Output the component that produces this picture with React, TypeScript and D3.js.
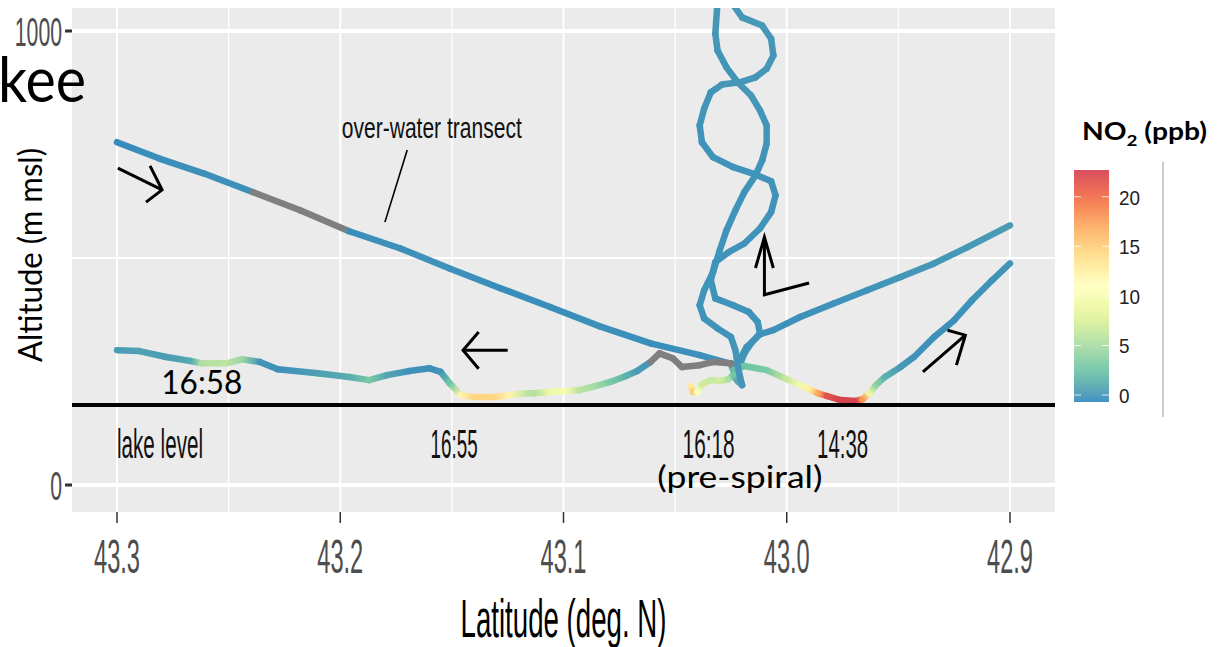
import React, { useRef, useEffect } from 'react';
import * as d3 from 'd3';

// [latitude (deg N), altitude (m msl), NO2 (ppb) or null when missing]
type Fix = [number, number, number | null];

const transect: Fix[] = [
  [43.300, 755, -0.5], [43.281, 719, -0.4], [43.261, 686, -0.3], [43.239, 645, -0.3],
  [43.218, 605, null], [43.196, 559, -0.4], [43.173, 521, -0.3], [43.151, 477, -0.2],
  [43.128, 433, -0.5], [43.106, 392, -0.4], [43.084, 350, -0.3], [43.061, 312, -0.4],
  [43.039, 286, -0.3], [43.023, 264, -0.1],
];

const spiralA: Fix[] = [
  [43.031, 1065, 0], [43.032, 994, 0.1], [43.031, 957, 0], [43.027, 920, -0.1], [43.022, 887, 0],
  [43.016, 858, 0.1], [43.012, 825, 0], [43.009, 792, -0.1], [43.009, 752, 0], [43.011, 715, -0.2],
  [43.014, 682, -0.1], [43.019, 645, -0.2], [43.023, 605, -0.1], [43.027, 561, -0.2], [43.030, 517, -0.1],
  [43.033, 469, -0.2], [43.037, 429, -0.1], [43.039, 396, -0.2], [43.037, 367, -0.1], [43.031, 345, -0.2],
  [43.025, 326, -0.1], [43.023, 297, 0], [43.022, 264, 0], [43.023, 235, 0.2],
];

const spiralB: Fix[] = [
  [43.025, 1065, 0.2], [43.020, 1030, 0.1], [43.011, 1012, 0.2], [43.007, 983, 0.1], [43.006, 946, 0],
  [43.009, 917, 0.1], [43.014, 898, 0], [43.021, 887, 0.1], [43.029, 882, 0], [43.034, 865, -0.1],
  [43.037, 829, 0], [43.039, 792, -0.1], [43.038, 755, -0.2], [43.033, 722, -0.1], [43.024, 700, -0.2],
  [43.014, 684, -0.1], [43.007, 669, -0.2], [43.005, 638, -0.1], [43.007, 601, -0.2], [43.012, 565, -0.1],
  [43.019, 532, -0.2], [43.026, 513, -0.1], [43.032, 491, -0.2], [43.034, 451, -0.1], [43.032, 411, -0.2],
  [43.024, 396, -0.1], [43.017, 381, -0.2], [43.013, 359, -0.1], [43.012, 334, -0.2], [43.016, 312, -0.1],
  [43.019, 290, 0], [43.021, 264, 0.1], [43.022, 235, 0.3],
];

const climbOut: Fix[] = [
  [43.022, 268, 0], [43.018, 304, -0.1], [43.012, 332, -0.2], [43.006, 341, -0.3], [42.994, 370, -0.3],
  [42.979, 400, -0.2], [42.964, 429, -0.1], [42.949, 458, 0], [42.934, 488, 0.1], [42.919, 524, 0.2],
  [42.900, 572, 0.3],
];

const lowPass: Fix[] = [
  [43.300, 297, 0.3], [43.290, 295, 0.6], [43.278, 282, 0.3], [43.267, 273, 1.0], [43.262, 268, 5.5],
  [43.251, 268, 6], [43.244, 277, 4.5], [43.236, 271, 0], [43.228, 255, -0.3], [43.210, 246, 0.5],
  [43.196, 238, 1.2], [43.187, 231, 3], [43.179, 242, 0.8], [43.169, 251, -0.2], [43.160, 257, -0.3],
  [43.155, 249, 0], [43.151, 224, 2.5], [43.146, 198, 12], [43.140, 194, 14.5], [43.131, 194, 14.5],
  [43.124, 198, 12], [43.116, 202, 6], [43.113, 202, 5.5], [43.106, 205, 9], [43.099, 207, 10],
  [43.093, 209, 6], [43.087, 216, 5], [43.079, 227, 3], [43.072, 240, 1.5], [43.067, 251, 0.3],
  [43.061, 271, 0], [43.057, 290, null], [43.051, 279, null], [43.047, 260, null], [43.039, 264, null],
  [43.033, 271, null], [43.025, 268, null], [43.024, 253, 2], [43.019, 262, 2.5], [43.009, 253, 3],
  [43.000, 233, 6.5], [42.994, 220, 9.5], [42.990, 211, 12.5], [42.986, 202, 17], [42.982, 196, 21.5],
  [42.976, 187, 22.5], [42.969, 185, 22.5], [42.966, 189, 18], [42.963, 202, 9], [42.960, 220, 4],
  [42.956, 238, 1.5], [42.949, 260, 0.2], [42.943, 282, -0.2], [42.934, 326, -0.3], [42.925, 363, -0.3],
  [42.917, 407, -0.2], [42.908, 451, -0.2], [42.900, 488, 0],
];

const preSpiral: Fix[] = [
  [43.043, 218, 13], [43.042, 205, 15], [43.040, 205, 11], [43.038, 222, 7], [43.034, 231, 6.5],
  [43.030, 229, 7], [43.026, 233, 5.5], [43.024, 242, 3], [43.022, 229, 1], [43.020, 220, 0],
  [43.021, 240, 0], [43.022, 264, 0],
];

const tracks = [transect, spiralA, spiralB, climbOut, lowPass, preSpiral];

const latTicks = [43.3, 43.2, 43.1, 43.0, 42.9];
const latMinor = [43.25, 43.15, 43.05, 42.95];
const altTicks = [0, 1000];
const altMinor = [500];
const no2Ticks = [0, 5, 10, 15, 20];
const no2Range: [number, number] = [-0.7, 22.7];
const lakeLevel = 176;

// hand-drawn arrows, in (lat, alt)
const arrows: [number, number][][] = [
  [[43.2996, 698], [43.2798, 650]], [[43.2852, 703], [43.2798, 650], [43.2870, 623]],
  [[43.125, 297], [43.145, 297]], [[43.138, 337], [43.145, 297], [43.138, 256]],
  [[42.990, 445], [43.010, 419], [43.010, 546]], [[43.014, 478], [43.010, 546], [43.006, 478]],
  [[42.939, 249], [42.920, 330]], [[42.928, 341], [42.920, 330], [42.924, 264]],
  [[43.170, 738], [43.180, 579]],
];

// ggplot-style (condensed) labels: text, lat, alt, width, anchor
const plotLabels: [string, number, number, number, string][] = [
  ['over-water transect', 43.159, 764, 180, 'middle'],
  ['lake level', 43.300, 60, 86, 'start'],
  ['16:55', 43.149, 60, 47, 'middle'],
  ['16:18', 43.035, 60, 52, 'middle'],
  ['14:38', 42.975, 60, 51, 'middle'],
];

const NA_GREY = '#7f7f7f';
const condensed = '"Liberation Sans", Arial, sans-serif';
const slideFont = 'Lato, "Open Sans", sans-serif';

const ReferenceChart: React.FC = () => {
  const svgRef = useRef<SVGSVGElement>(null);

  useEffect(() => {
    if (!svgRef.current) return;
    const width = 1217;
    const height = 647;
    const panel = { left: 72, right: 1055, top: 8, bottom: 512 };

    const svg = d3.select(svgRef.current);
    svg.selectAll('*').remove();
    svg.attr('width', width).attr('height', height);
    const defs = svg.append('defs');

    const x = d3.scaleLinear().domain([43.3, 42.9]).range([117, 1010]);
    const y = d3.scaleLinear().domain([0, 1000]).range([485, 31]);

    const palette = d3.schemeSpectral[9].slice().reverse();
    const color = d3.scaleSequential(d3.piecewise(d3.interpolateLab, palette)).domain(no2Range);

    svg.append('rect').attr('width', width).attr('height', height).attr('fill', '#fff');

    // panel
    svg.append('rect')
      .attr('x', panel.left).attr('y', panel.top)
      .attr('width', panel.right - panel.left).attr('height', panel.bottom - panel.top)
      .attr('fill', '#ebebeb');

    defs.append('clipPath').attr('id', 'panel-clip')
      .append('rect')
      .attr('x', panel.left).attr('y', panel.top)
      .attr('width', panel.right - panel.left).attr('height', panel.bottom - panel.top);

    const grid = svg.append('g');
    latMinor.forEach(v => grid.append('line')
      .attr('x1', x(v)).attr('x2', x(v)).attr('y1', panel.top).attr('y2', panel.bottom)
      .attr('stroke', '#fff').attr('stroke-width', 1.3));
    latTicks.forEach(v => grid.append('line')
      .attr('x1', x(v)).attr('x2', x(v)).attr('y1', panel.top).attr('y2', panel.bottom)
      .attr('stroke', '#fff').attr('stroke-width', 2));
    altMinor.forEach(v => grid.append('line')
      .attr('x1', panel.left).attr('x2', panel.right).attr('y1', y(v)).attr('y2', y(v))
      .attr('stroke', '#fff').attr('stroke-width', 2));
    altTicks.forEach(v => grid.append('line')
      .attr('x1', panel.left).attr('x2', panel.right).attr('y1', y(v)).attr('y2', y(v))
      .attr('stroke', '#fff').attr('stroke-width', 4));

    // flight tracks, colored by NO2
    const trackGroup = svg.append('g').attr('clip-path', 'url(#panel-clip)');
    tracks.forEach((track, k) => {
      d3.pairs(track).forEach(([a, b], i) => {
        const x1 = x(a[0]), y1 = y(a[1]), x2 = x(b[0]), y2 = y(b[1]);
        let stroke = NA_GREY;
        if (a[2] !== null && b[2] !== null) {
          const id = `seg-${k}-${i}`;
          const grad = defs.append('linearGradient').attr('id', id)
            .attr('gradientUnits', 'userSpaceOnUse')
            .attr('x1', x1).attr('y1', y1).attr('x2', x2 + 0.01).attr('y2', y2);
          grad.append('stop').attr('offset', 0).attr('stop-color', color(a[2]));
          grad.append('stop').attr('offset', 1).attr('stop-color', color(b[2]));
          stroke = `url(#${id})`;
        }
        trackGroup.append('line')
          .attr('x1', x1).attr('y1', y1).attr('x2', x2).attr('y2', y2)
          .attr('stroke', stroke).attr('stroke-width', 6.5)
          .attr('stroke-linecap', 'round');
      });
    });

    // lake level
    svg.append('line')
      .attr('x1', panel.left).attr('x2', panel.right)
      .attr('y1', y(lakeLevel)).attr('y2', y(lakeLevel))
      .attr('stroke', '#000').attr('stroke-width', 4);

    // annotations
    const line = d3.line<[number, number]>().x(d => x(d[0])).y(d => y(d[1]));
    arrows.forEach((pts, i) => {
      svg.append('path').attr('d', line(pts))
        .attr('fill', 'none').attr('stroke', '#000')
        .attr('stroke-width', i === arrows.length - 1 ? 1.6 : 3)
        .attr('stroke-linejoin', 'miter').attr('stroke-linecap', 'butt');
    });

    plotLabels.forEach(([txt, lat, alt, w, anchor]) => {
      svg.append('text')
        .attr('x', x(lat)).attr('y', y(alt))
        .attr('text-anchor', anchor)
        .attr('textLength', w).attr('lengthAdjust', 'spacingAndGlyphs')
        .style('font-family', condensed)
        .style('font-size', txt === 'over-water transect' ? '30px' : '40px')
        .style('fill', '#111')
        .text(txt);
    });

    svg.append('text')
      .attr('x', x(43.262)).attr('y', y(200))
      .attr('text-anchor', 'middle')
      .attr('textLength', 81).attr('lengthAdjust', 'spacingAndGlyphs')
      .style('font-family', slideFont).style('font-size', '33px').style('fill', '#000')
      .text('16:58');

    svg.append('text')
      .attr('x', x(43.021)).attr('y', y(-7))
      .attr('text-anchor', 'middle')
      .attr('textLength', 165).attr('lengthAdjust', 'spacingAndGlyphs')
      .style('font-family', slideFont).style('font-size', '31px').style('fill', '#000')
      .text('(pre-spiral)');

    // axes
    const axisText = '#4d4d4d';
    latTicks.forEach(v => {
      svg.append('line')
        .attr('x1', x(v)).attr('x2', x(v)).attr('y1', panel.bottom).attr('y2', panel.bottom + 11)
        .attr('stroke', '#333').attr('stroke-width', 1.5);
      svg.append('text')
        .attr('x', x(v)).attr('y', 573)
        .attr('text-anchor', 'middle')
        .attr('textLength', 46).attr('lengthAdjust', 'spacingAndGlyphs')
        .style('font-family', condensed).style('font-size', '49px').style('fill', axisText)
        .text(d3.format('.1f')(v));
    });
    altTicks.forEach(v => {
      svg.append('line')
        .attr('x1', panel.left - 7).attr('x2', panel.left).attr('y1', y(v)).attr('y2', y(v))
        .attr('stroke', '#333').attr('stroke-width', 3);
      const label = String(v);
      svg.append('text')
        .attr('x', panel.left - 10).attr('y', y(v) + 15)
        .attr('text-anchor', 'end')
        .attr('textLength', label.length * 11.8).attr('lengthAdjust', 'spacingAndGlyphs')
        .style('font-family', condensed).style('font-size', '40px').style('fill', axisText)
        .text(label);
    });

    svg.append('text')
      .attr('x', (x(43.3) + x(42.9)) / 2).attr('y', 637)
      .attr('text-anchor', 'middle')
      .attr('textLength', 206).attr('lengthAdjust', 'spacingAndGlyphs')
      .style('font-family', condensed).style('font-size', '53px').style('fill', '#000')
      .text('Latitude (deg. N)');

    svg.append('text')
      .attr('transform', `translate(42, 255) rotate(-90)`)
      .attr('text-anchor', 'middle')
      .attr('textLength', 214).attr('lengthAdjust', 'spacingAndGlyphs')
      .style('font-family', slideFont).style('font-size', '33px').style('fill', '#000')
      .text('Altitude (m msl)');

    svg.append('text')
      .attr('x', -2).attr('y', 102)
      .attr('textLength', 88).attr('lengthAdjust', 'spacingAndGlyphs')
      .style('font-family', slideFont).style('font-size', '62px').style('fill', '#000')
      .text('kee');

    // colour bar legend
    const barX = 1074, barW = 35;
    const barY = d3.scaleLinear().domain(no2Range).range([402, 170]);
    const barGrad = defs.append('linearGradient').attr('id', 'no2-bar')
      .attr('x1', 0).attr('y1', 1).attr('x2', 0).attr('y2', 0);
    d3.range(0, 1.0001, 0.05).forEach(t => {
      barGrad.append('stop').attr('offset', t)
        .attr('stop-color', color(no2Range[0] + t * (no2Range[1] - no2Range[0])));
    });
    svg.append('rect')
      .attr('x', barX).attr('y', barY(no2Range[1]))
      .attr('width', barW).attr('height', barY(no2Range[0]) - barY(no2Range[1]))
      .attr('fill', 'url(#no2-bar)').attr('opacity', 0.92);
    no2Ticks.forEach(v => {
      [[barX, barX + 7], [barX + barW - 7, barX + barW]].forEach(([a, b]) => {
        svg.append('line')
          .attr('x1', a).attr('x2', b).attr('y1', barY(v)).attr('y2', barY(v))
          .attr('stroke', '#fff').attr('stroke-width', 1).attr('opacity', 0.8);
      });
      const label = String(v);
      svg.append('text')
        .attr('x', barX + barW + 10).attr('y', barY(v) + 8)
        .attr('textLength', label.length * 10.5).attr('lengthAdjust', 'spacingAndGlyphs')
        .style('font-family', condensed).style('font-size', '21px').style('fill', '#222')
        .text(label);
    });

    const title = svg.append('text')
      .attr('x', 1082).attr('y', 140)
      .attr('textLength', 125).attr('lengthAdjust', 'spacingAndGlyphs')
      .style('font-family', slideFont).style('font-size', '24px')
      .style('font-weight', 'bold').style('fill', '#000');
    title.append('tspan').text('NO');
    title.append('tspan').attr('dy', 6).style('font-size', '16px').text('2');
    title.append('tspan').attr('dy', -6).text(' (ppb)');

    svg.append('line')
      .attr('x1', 1163).attr('x2', 1163).attr('y1', 162).attr('y2', 417)
      .attr('stroke', '#9a9a9a').attr('stroke-width', 1);
  }, []);

  return <svg ref={svgRef} width={1217} height={647} style={{ display: 'block' }} />;
};

export default function App() {
  return (
    <div style={{ position: 'absolute', left: 0, top: 0, width: 1217, height: 647 }}>
      <ReferenceChart />
    </div>
  );
}
